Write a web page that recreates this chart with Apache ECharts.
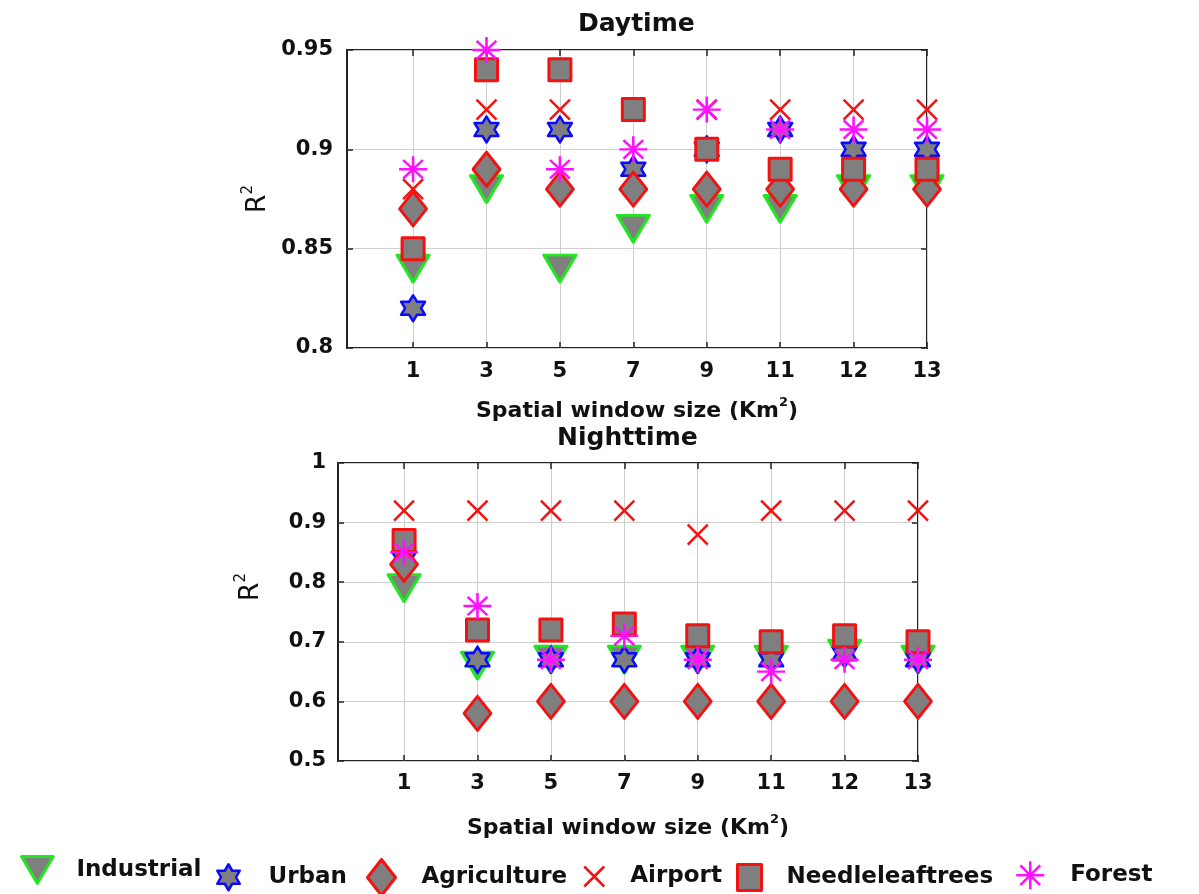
<!DOCTYPE html>
<html>
<head>
<meta charset="utf-8">
<script src="https://cdn.jsdelivr.net/npm/echarts@6/dist/echarts.min.js"></script>
<style>
  html, body { margin: 0; padding: 0; background: #ffffff; }
  #chart { width: 1199px; height: 894px; }
</style>
</head>
<body>
<div id="chart"></div>
<script>
// Spatial window sizes (Km²), one evenly spaced slot each
const windowSizes = ['1', '3', '5', '7', '9', '11', '12', '13'];
const landCovers = ['Industrial', 'Urban', 'Agriculture', 'Airport', 'Needleleaftrees', 'Forest'];

// Daytime R²
const dayIndustrial      = [0.84, 0.88, 0.84, 0.86, 0.87, 0.87, 0.88, 0.88];
const dayUrban           = [0.82, 0.91, 0.91, 0.89, 0.90, 0.91, 0.90, 0.90];
const dayAgriculture     = [0.87, 0.89, 0.88, 0.88, 0.88, 0.88, 0.88, 0.88];
const dayAirport         = [0.88, 0.92, 0.92, 0.92, 0.92, 0.92, 0.92, 0.92];
const dayNeedleleaftrees = [0.85, 0.94, 0.94, 0.92, 0.90, 0.89, 0.89, 0.89];
const dayForest          = [0.89, 0.95, 0.89, 0.90, 0.92, 0.91, 0.91, 0.91];

// Nighttime R²
const nightIndustrial      = [0.79, 0.66, 0.67, 0.67, 0.67, 0.67, 0.68, 0.67];
const nightUrban           = [0.84, 0.67, 0.67, 0.67, 0.67, 0.67, 0.68, 0.67];
const nightAgriculture     = [0.83, 0.58, 0.60, 0.60, 0.60, 0.60, 0.60, 0.60];
const nightAirport         = [0.92, 0.92, 0.92, 0.92, 0.88, 0.92, 0.92, 0.92];
const nightNeedleleaftrees = [0.87, 0.72, 0.72, 0.73, 0.71, 0.70, 0.71, 0.70];
const nightForest          = [0.85, 0.76, 0.67, 0.71, 0.67, 0.65, 0.67, 0.67];

// Y-axis ranges
const dayRange = { min: 0.8, max: 0.95, step: 0.05 };
const nightRange = { min: 0.5, max: 1.0, step: 0.1 };

const daySeries = [dayIndustrial, dayUrban, dayAgriculture, dayAirport, dayNeedleleaftrees, dayForest];
const nightSeries = [nightIndustrial, nightUrban, nightAgriculture, nightAirport, nightNeedleleaftrees, nightForest];

const FONT = 'DejaVu Sans';
const GRAY = '#7f7f7f';
const INK = '#222222';
const GRID_LINE = '#cfcfcf';

// Marker shapes
const TRIANGLE_DOWN = 'path://M0,0L20,0L10,17Z';
const HEXAGRAM = 'path://M10,0L12.887,5L18.66,5L15.774,10L18.66,15L12.887,15L10,20L7.113,15L1.34,15L4.226,10L1.34,5L7.113,5Z';
const CROSS = 'path://M0,0L20,20M20,0L0,20';
const ASTERISK = 'path://M10,0L10,20M0,10L20,10M2.93,2.93L17.07,17.07M17.07,2.93L2.93,17.07';

const markerStyle = {
  Industrial:      { symbol: TRIANGLE_DOWN, size: [32, 27], fill: GRAY, stroke: '#22e622', width: 3 },
  Urban:           { symbol: HEXAGRAM, size: [24, 26], fill: GRAY, stroke: '#0a0aff', width: 2.5 },
  Agriculture:     { symbol: 'diamond', size: [27, 34], fill: GRAY, stroke: '#f21212', width: 3 },
  Airport:         { symbol: CROSS, size: [20, 20], fill: 'transparent', stroke: '#f21212', width: 2.5 },
  Needleleaftrees: { symbol: 'rect', size: [22, 22], fill: GRAY, stroke: '#f21212', width: 3 },
  Forest:          { symbol: ASTERISK, size: [28, 26], fill: 'transparent', stroke: '#ff10ff', width: 2.5 }
};

// Legend placement: icon box and gap to its label
const legendLayout = {
  Industrial:      { left: 20,  top: 855, w: 32, h: 27, gap: 18 },
  Urban:           { left: 216, top: 863, w: 24, h: 26, gap: 23 },
  Agriculture:     { left: 366, top: 858, w: 28, h: 36, gap: 21 },
  Airport:         { left: 583, top: 865, w: 22, h: 20, gap: 20 },
  Needleleaftrees: { left: 736, top: 863, w: 24, h: 26, gap: 20 },
  Forest:          { left: 1015, top: 860, w: 28, h: 28, gap: 21 }
};

const slotValues = windowSizes.map((_, i) => i + 1);

function xAxes(gridIndex, nameGap, labelMargin) {
  const common = {
    type: 'value', gridIndex: gridIndex, min: 0.1, max: windowSizes.length,
    axisLine: { show: false },
    axisTick: { show: true, inside: true, length: 6, customValues: slotValues, lineStyle: { color: INK, width: 1.5 } }
  };
  return [
    Object.assign({}, common, {
      position: 'bottom',
      axisLabel: {
        customValues: slotValues, margin: labelMargin,
        formatter: v => windowSizes[Math.round(v) - 1],
        fontFamily: FONT, fontWeight: 'bold', fontSize: 21, color: '#111'
      },
      splitLine: { show: true, lineStyle: { color: GRID_LINE, width: 1 } },
      name: '{t|Spatial window size (Km}{s|2}{t|)}',
      nameLocation: 'middle', nameGap: nameGap,
      nameTextStyle: {
        rich: {
          t: { fontFamily: FONT, fontWeight: 'bold', fontSize: 22, color: '#111', lineHeight: 26, verticalAlign: 'bottom' },
          s: { fontFamily: FONT, fontWeight: 'bold', fontSize: 13, color: '#111', lineHeight: 12, verticalAlign: 'top' }
        }
      }
    }),
    Object.assign({}, common, {
      position: 'top',
      axisLabel: { show: false },
      splitLine: { show: false }
    })
  ];
}

function yAxes(gridIndex, range, nameGap, namePad, labelMargin) {
  const common = {
    type: 'value', gridIndex: gridIndex, min: range.min, max: range.max, interval: range.step,
    axisLine: { show: false },
    axisTick: { show: true, inside: true, length: 6, lineStyle: { color: INK, width: 1.5 } }
  };
  return [
    Object.assign({}, common, {
      position: 'left',
      axisLabel: {
        margin: labelMargin,
        formatter: v => String(parseFloat(v.toFixed(2))),
        fontFamily: FONT, fontWeight: 'bold', fontSize: 21, color: '#111'
      },
      splitLine: { show: true, lineStyle: { color: GRID_LINE, width: 1 } },
      name: '{r|R}{s|2}',
      nameLocation: 'middle', nameGap: nameGap, nameRotate: 90,
      nameTextStyle: {
        padding: namePad,
        rich: {
          r: { fontFamily: FONT, fontSize: 27, color: '#111', lineHeight: 30, verticalAlign: 'bottom' },
          s: { fontFamily: FONT, fontSize: 15, color: '#111', lineHeight: 14, verticalAlign: 'top' }
        }
      }
    }),
    Object.assign({}, common, {
      position: 'right',
      axisLabel: { show: false },
      splitLine: { show: false }
    })
  ];
}

function buildSeries(valuesList, xIndex, yIndex) {
  return landCovers.map((name, k) => {
    const m = markerStyle[name];
    return {
      name: name,
      type: 'scatter',
      xAxisIndex: xIndex, yAxisIndex: yIndex,
      clip: false,
      symbol: m.symbol, symbolSize: m.size,
      itemStyle: { color: m.fill, borderColor: m.stroke, borderWidth: m.width, borderJoin: 'round', opacity: 1 },
      emphasis: { disabled: true },
      data: valuesList[k].map((v, i) => [i + 1, v]),
      z: 3 + k
    };
  });
}

const legends = landCovers.map(name => {
  const m = markerStyle[name];
  const L = legendLayout[name];
  return {
    data: [name],
    left: L.left, top: L.top, padding: 0,
    itemWidth: L.w, itemHeight: L.h,
    selectedMode: false,
    itemStyle: { color: m.fill, borderColor: m.stroke, borderWidth: m.width },
    textStyle: { fontFamily: FONT, fontWeight: 'bold', fontSize: 23, color: '#111', padding: [0, 0, 0, L.gap] }
  };
});

const option = {
  backgroundColor: '#ffffff',
  animation: false,
  title: [
    { text: 'Daytime', left: 578, top: 12, padding: 0,
      textStyle: { fontFamily: FONT, fontWeight: 'bold', fontSize: 25, color: '#111' } },
    { text: 'Nighttime', left: 557, top: 426, padding: 0,
      textStyle: { fontFamily: FONT, fontWeight: 'bold', fontSize: 25, color: '#111' } }
  ],
  legend: legends,
  grid: [
    { left: 347, top: 50, width: 580, height: 298, show: true, borderColor: INK, borderWidth: 2, backgroundColor: 'transparent' },
    { left: 338, top: 463, width: 580, height: 298, show: true, borderColor: INK, borderWidth: 2, backgroundColor: 'transparent' }
  ],
  xAxis: [].concat(xAxes(0, 48, 13), xAxes(1, 52, 12)),
  yAxis: [].concat(yAxes(0, dayRange, 76, 0, 14), yAxes(1, nightRange, 74, [0, 0, 0, 50], 12)),
  series: [].concat(
    buildSeries(daySeries, 0, 0),
    buildSeries(nightSeries, 2, 2)
  )
};

const chart = echarts.init(document.getElementById('chart'), null, { renderer: 'canvas' });
chart.setOption(option);
</script>
</body>
</html>
